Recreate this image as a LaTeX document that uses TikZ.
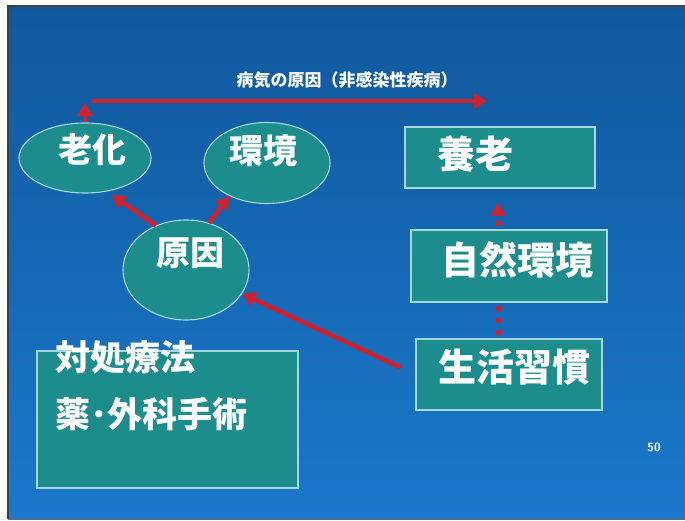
\documentclass[tikz,border=0pt]{standalone}
\usepackage{fontspec}
\newfontfamily\cjk{Noto Sans CJK JP}
\usetikzlibrary{shapes.geometric,arrows.meta}
\definecolor{bgtop}{HTML}{10589C}
\definecolor{bgbot}{HTML}{1B78CC}
\definecolor{tealf}{HTML}{1C8C8C}
\definecolor{edgec}{HTML}{A6D8E4}
\definecolor{redc}{HTML}{CE2230}
\tikzset{
  ell/.style={ellipse, draw=edgec, line width=1.1pt, fill=tealf, inner sep=0pt},
  box/.style={rectangle, draw=edgec, line width=1.1pt, fill=tealf, inner sep=0pt},
  bigtxt/.style={text=white, inner sep=0pt, font=\cjk\bfseries\fontsize{34pt}{34pt}\selectfont},
  boxtxt/.style={text=white, inner sep=0pt, anchor=west, font=\cjk\bfseries\fontsize{38pt}{38pt}\selectfont},
  redarr/.style={draw=redc, line width=4.5pt, -{Triangle[width=15pt,length=13pt]}},
  reddots/.style={draw=redc, line width=5pt, dash pattern=on 5pt off 7pt},
}
\begin{document}
\begin{tikzpicture}[x=1pt,y=-1pt]
\useasboundingbox (0,0) rectangle (685,521);
\fill[white] (0,0) rectangle (685,521);
\shade[top color=bgtop, bottom color=bgbot] (8,6) rectangle (686,519);
\draw[black!75, line width=1.2pt] (8,519) -- (8,6) -- (686,6);
\draw[black!60, line width=1pt] (8,519) -- (686,519);

% ellipses
\node[ell, minimum width=132pt, minimum height=70pt] (roka) at (85,158) {};
\node[ell, minimum width=126pt, minimum height=81pt] (kankyo) at (267,163) {};
\node[ell, minimum width=126pt, minimum height=100pt] (genin) at (186,270) {};
\node[bigtxt] (rokat) at (92,150) {老化};
\node[bigtxt] (kankyot) at (263,151) {環境};
\node[bigtxt] (genint) at (190,253) {原因};

% boxes
\node[box, minimum width=190pt, minimum height=61pt] (youro) at (500,157.5) {};
\node[box, minimum width=196pt, minimum height=72pt] (jinen) at (509,266) {};
\node[box, minimum width=186pt, minimum height=71pt] (seikatsu) at (509,374.5) {};
\node[box, minimum width=261pt, minimum height=137pt] (taisho) at (167.5,419.5) {};
\node[boxtxt] (yourot) at (437,154) {養老};
\node[boxtxt] (jinent) at (441,260) {自然環境};
\node[boxtxt] (seikatsut) at (438,367) {生活習慣};
\node[boxtxt, font=\cjk\bfseries\fontsize{35pt}{35pt}\selectfont] (taishot1) at (55,357) {対処療法};
\node[boxtxt, font=\cjk\bfseries\fontsize{35pt}{35pt}\selectfont] (taishot2) at (55,414) {薬･外科手術};

% title and page number
\node[text=white, inner sep=0pt, font=\cjk\bfseries\fontsize{17pt}{17pt}\selectfont] (title) at (347,80) {病気の原因（非感染性疾病）};
\node[text=white, inner sep=0pt, font=\sffamily\bfseries\fontsize{12pt}{12pt}\selectfont] (pnum) at (654,447) {50};

% arrows
\coordinate (tl) at (85,103);
\coordinate (hs) at (92,101);
\coordinate (he) at (487,101);
\draw[redarr] (roka.north) -- (tl);
\draw[redarr] (hs) -- (he);
\draw[redarr, shorten >=6pt] (genin.124) -- (roka.303);
\draw[redarr] (genin.64) -- (kankyo.221);
\draw[redarr, shorten <=16pt] (seikatsu.west) -- (genin.337);
\draw[reddots, -{Triangle[width=15pt,length=13pt]}, shorten >=14pt, dash phase=9pt] ([xshift=-11pt]jinen.north) -- ([xshift=-2pt]youro.south);
\draw[reddots, dash phase=8.5pt] ([xshift=-11pt]jinen.south) -- ([xshift=-11pt]seikatsu.north);
\end{tikzpicture}
\end{document}
